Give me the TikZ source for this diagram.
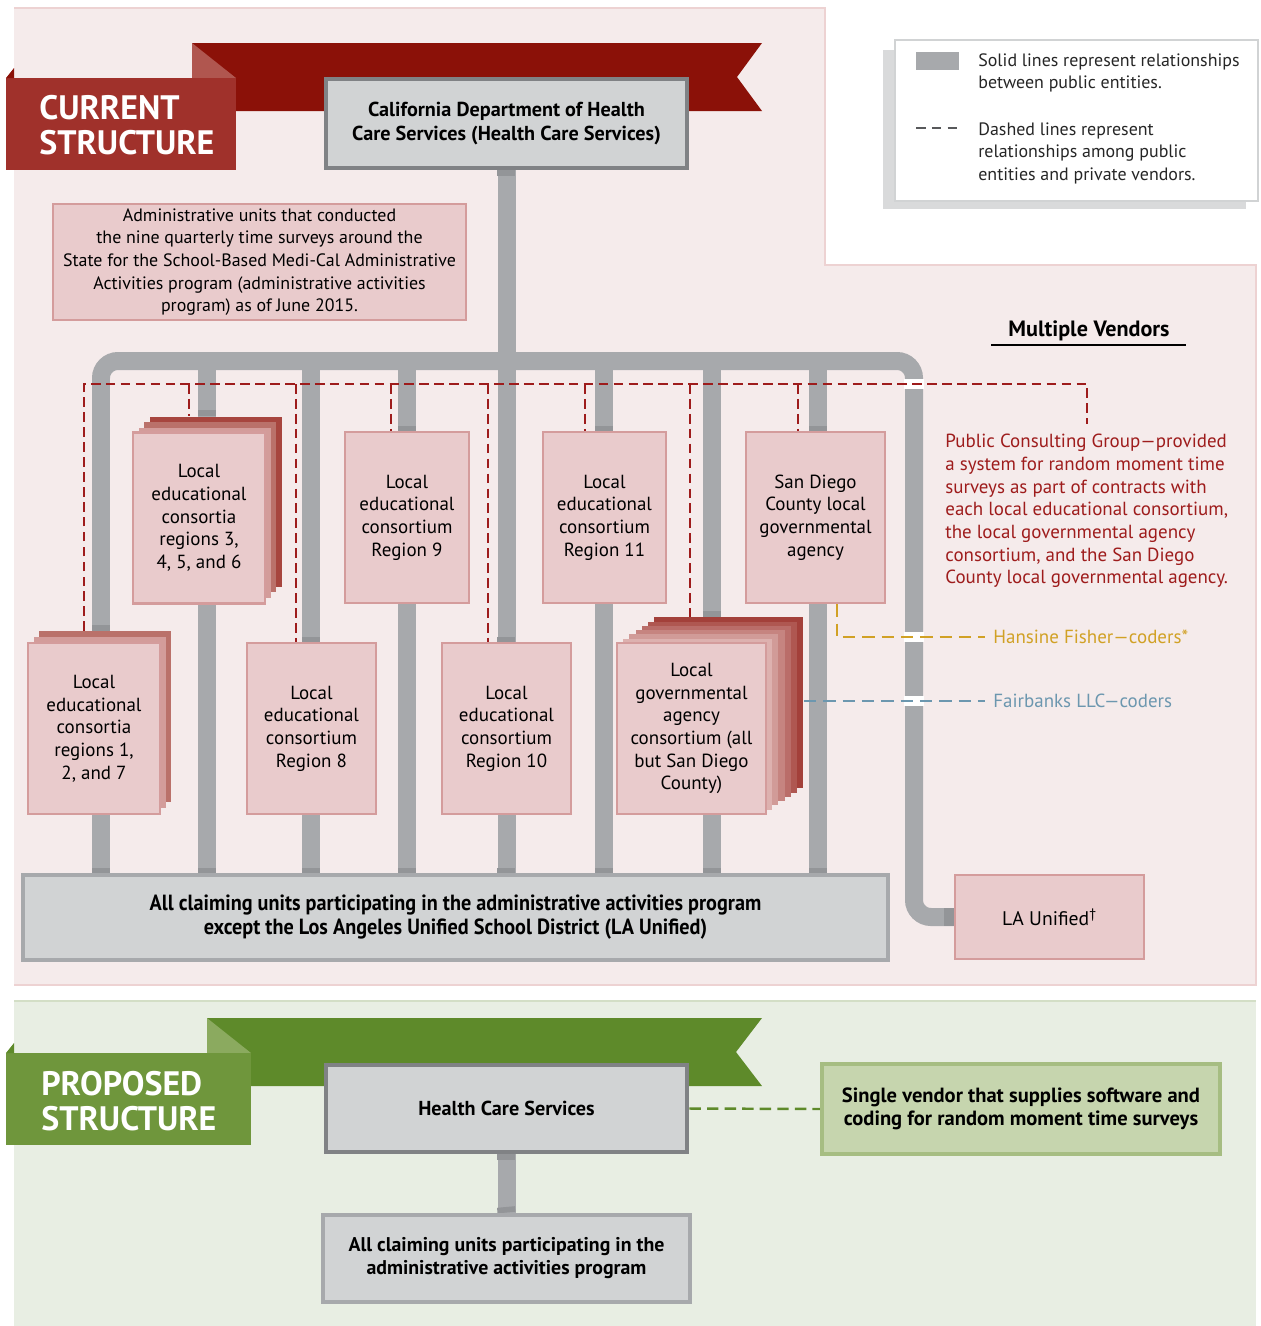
\documentclass[tikz,border=0pt]{standalone}
\usepackage{fontspec}
\setmainfont{PT Sans}
\newfontfamily\condfont[FakeStretch=0.92]{PT Sans}
\usetikzlibrary{positioning}

\definecolor{panelpink}{HTML}{F5EBEB}
\definecolor{panelpinkline}{HTML}{EDD2D2}
\definecolor{panelgreen}{HTML}{E8EEE3}
\definecolor{panelgreenline}{HTML}{D3DEC6}
\definecolor{ribbonred}{HTML}{8B1108}
\definecolor{foldred}{HTML}{B0564F}
\definecolor{labelred}{HTML}{A0312B}
\definecolor{ribbongreen}{HTML}{5E8A2A}
\definecolor{foldgreen}{HTML}{8BAA5F}
\definecolor{labelgreen}{HTML}{6F963C}
\definecolor{pipegray}{HTML}{A7A9AC}
\definecolor{capgray}{HTML}{939598}
\definecolor{boxgray}{HTML}{D1D3D4}
\definecolor{edgegray}{HTML}{808285}
\definecolor{unitfill}{HTML}{E9CBCC}
\definecolor{unitedge}{HTML}{D49C9C}
\definecolor{stackA}{HTML}{D39C9A}
\definecolor{stackB}{HTML}{BA716A}
\definecolor{stackC}{HTML}{A7453E}
\definecolor{lgalight}{HTML}{DDB1AF}
\definecolor{lgadark}{HTML}{A3403A}
\definecolor{pcgred}{HTML}{9E1C1C}
\definecolor{hfgold}{HTML}{D1A125}
\definecolor{fbblue}{HTML}{6C97AF}
\definecolor{vendorfill}{HTML}{C6D5AE}
\definecolor{vendoredge}{HTML}{A6BD82}
\definecolor{legendshadow}{HTML}{D9DADB}
\definecolor{legenddash}{HTML}{58595B}

\def\pxl{0.02cm}
\newcommand{\unitfont}{\fontsize{10.8}{12.9}\selectfont}
\newcommand{\notefont}{\fontsize{10.2}{12.9}\selectfont}
\newcommand{\legendfont}{\fontsize{10.2}{12.9}\selectfont}
\newcommand{\headfont}{\fontsize{11.5}{13.1}\selectfont\bfseries}
\newcommand{\claimfont}{\fontsize{12.5}{13.6}\selectfont\condfont\bfseries}
\newcommand{\bannerfont}{\fontsize{19.3}{19.8}\selectfont\bfseries}

\pgfdeclarelayer{panel}
\pgfdeclarelayer{pipes}
\pgfdeclarelayer{links}
\pgfsetlayers{panel,pipes,links,main}

\begin{document}
\begin{tikzpicture}[
  x=0.02cm, y=-0.02cm,
  pipe/.style={pipegray, line width=0.36cm},
  pipecap/.style={capgray, line width=0.36cm},
  unit/.style={draw=unitedge, fill=unitfill, line width=1.5pt, inner sep=0pt,
    align=center, font=\unitfont},
  hq/.style={draw=edgegray, fill=boxgray, line width=2.8pt, inner sep=0pt,
    align=center, font=\headfont},
  claim/.style={draw=pipegray, fill=boxgray, line width=2.8pt, inner sep=0pt,
    align=center},
  vendor/.style={draw=vendoredge, fill=vendorfill, line width=2.3pt, inner sep=0pt,
    align=center, font=\fontsize{11.7}{13.4}\selectfont\bfseries},
  pcgdash/.style={pcgred, line width=1.6pt, dash pattern=on 5.5pt off 3pt},
  hfdash/.style={hfgold, line width=1.4pt, dash pattern=on 7pt off 4pt},
  fbdash/.style={fbblue, line width=1.4pt, dash pattern=on 7pt off 4pt},
  grdash/.style={ribbongreen, line width=1.4pt, dash pattern=on 6.5pt off 3.5pt},
  bannertxt/.style={white, font=\bannerfont, align=left, inner sep=0pt, anchor=north west},
  legendtxt/.style={font=\legendfont, align=left, inner sep=0pt, anchor=north west, text=black!85},
]
\useasboundingbox (0,0) rectangle (1261,1326);

% ── Panels ────────────────────────────────────────────────────────────────────
\begin{pgfonlayer}{panel}
  \fill[panelpink] (14,8) -- (825,8) -- (825,265) -- (1256,265) -- (1256,985) -- (14,985) -- cycle;
  \draw[panelpinkline, line width=1.2pt]
    (14,8) -- (825,8) -- (825,265) -- (1256,265) -- (1256,985) -- (14,985);
  \fill[panelgreen] (14,1001) rectangle (1256,1326);
  \draw[panelgreenline, line width=1.2pt] (14,1001) -- (1256,1001);
\end{pgfonlayer}

% ── Banner: current structure ────────────────────────────────────────────────
\fill[ribbonred] (192,43) -- (762,43) -- (737,77) -- (762,111) -- (192,111) -- cycle;
\fill[foldred] (192,43) -- (236,78) -- (192,78) -- cycle;
\fill[labelred] (6,78) rectangle (236,170);
\fill[ribbonred] (6,78) -- (14,68) -- (14,78) -- cycle;
\node[bannertxt] (curlbl) at (39,95) {CURRENT\\STRUCTURE};

% ── Legend ────────────────────────────────────────────────────────────────────
\fill[legendshadow] (883,50) rectangle (1246,209);
\draw[boxgray, line width=1.5pt, fill=white] (895,40) rectangle (1258,201);
\fill[pipegray] (916,52) rectangle (959,70);
\draw[legenddash, line width=1.4pt, dash pattern=on 5.5pt off 3.5pt] (916,128) -- (962,128);
\node[legendtxt] (solidtxt) at (978,53) {Solid lines represent relationships\\between public entities.};
\node[legendtxt] (dashtxt) at (978,122) {Dashed lines represent\\relationships among public\\entities and private vendors.};

% ── Boxes, current structure ─────────────────────────────────────────────────
\node[hq, minimum width=361*\pxl, minimum height=89*\pxl] (hq) at (506.5,123.5)
  {California Department of Health\\Care Services (Health Care Services)};

\node[unit, font=\notefont, minimum width=413*\pxl, minimum height=116*\pxl] (note) at (259.5,262)
  {Administrative units that conducted\\the nine quarterly time surveys around the\\State for the School-Based Medi-Cal Administrative\\Activities program (administrative activities\\program) as of June 2015.};

% stacked consortia: layers behind the front box
\foreach \k/\c in {3/stackC,2/stackB,1/stackA}
  \fill[\c] (133+5.5*\k,433-5.5*\k) rectangle ++(132,170);
\foreach \k/\c in {2/stackB,1/stackA}
  \fill[\c] (28+5.5*\k,643-6*\k) rectangle ++(132,171);
\foreach \k in {6,5,...,1} {
  \pgfmathtruncatemacro\mixp{100*(\k-1)/5}
  \fill[lgadark!\mixp!lgalight] (617+6.2*\k,643-4.3*\k) rectangle ++(149,171);
}

\node[unit, minimum width=132*\pxl, minimum height=171*\pxl] (r3456) at (199,518)
  {Local\\educational\\consortia\\regions 3,\\4, 5, and 6};
\node[unit, minimum width=124*\pxl, minimum height=171*\pxl] (r9) at (407,517.5)
  {Local\\educational\\consortium\\Region 9};
\node[unit, minimum width=123*\pxl, minimum height=171*\pxl] (r11) at (604.5,517.5)
  {Local\\educational\\consortium\\Region 11};
\node[unit, minimum width=139*\pxl, minimum height=171*\pxl] (sd) at (815.5,517.5)
  {San Diego\\County local\\governmental\\agency};
\node[unit, minimum width=132*\pxl, minimum height=171*\pxl] (r127) at (94,728.5)
  {Local\\educational\\consortia\\regions 1,\\2, and 7};
\node[unit, minimum width=129*\pxl, minimum height=171*\pxl] (r8) at (311.5,728.5)
  {Local\\educational\\consortium\\Region 8};
\node[unit, minimum width=129*\pxl, minimum height=171*\pxl] (r10) at (506.5,728.5)
  {Local\\educational\\consortium\\Region 10};
\node[unit, minimum width=149*\pxl, minimum height=171*\pxl] (lga) at (691.5,728.5)
  {Local\\governmental\\agency\\consortium (all\\but San Diego\\County)};

\node[claim, font=\claimfont, minimum width=865*\pxl, minimum height=85*\pxl] (allunits) at (455.5,917.5)
  {All claiming units participating in the administrative activities program\\except the Los Angeles Unified School District (LA Unified)};
\node[unit, font=\fontsize{11.2}{13}\selectfont, minimum width=189*\pxl, minimum height=84*\pxl] (launified) at (1049.5,917)
  {LA Unified\textsuperscript{\textdagger}};

% ── Vendors ──────────────────────────────────────────────────────────────────
\node[font=\fontsize{12.6}{14}\selectfont\bfseries, inner sep=0pt] (mv) at (1089,331) {Multiple Vendors};
\draw[line width=1.5pt] (991,345) -- (1186,345);

\node[font=\unitfont, text=pcgred, align=left, anchor=north west, inner xsep=0pt, inner ysep=0.2cm] (pcg) at (945,424)
  {Public Consulting Group\textemdash provided\\a system for random moment time\\surveys as part of contracts with\\each local educational consortium,\\the local governmental agency\\consortium, and the San Diego\\County local governmental agency.};
\node[font=\unitfont, text=hfgold, anchor=west, inner xsep=0.16cm, inner ysep=0pt] (hf) at (985,637)
  {Hansine Fisher\textemdash coders*};
\node[font=\unitfont, text=fbblue, anchor=west, inner xsep=0.16cm, inner ysep=0pt] (fb) at (985,701)
  {Fairbanks LLC\textemdash coders};

% ── Banner: proposed structure ───────────────────────────────────────────────
\fill[ribbongreen] (207,1018) -- (762,1018) -- (736,1052) -- (762,1086) -- (207,1086) -- cycle;
\fill[foldgreen] (207,1018) -- (251,1053) -- (207,1053) -- cycle;
\fill[labelgreen] (6,1053) rectangle (251,1145);
\fill[ribbongreen] (6,1053) -- (14,1043) -- (14,1053) -- cycle;
\node[bannertxt] (proplbl) at (41,1071) {PROPOSED\\STRUCTURE};

\node[hq, minimum width=361*\pxl, minimum height=87*\pxl] (hcs) at (506.5,1108.5) {Health Care Services};
\node[claim, font=\fontsize{11.3}{13.1}\selectfont\bfseries, minimum width=367*\pxl, minimum height=87*\pxl] (claimall) at (506.5,1258.5)
  {All claiming units participating in the\\administrative activities program};
\node[vendor, minimum width=398*\pxl, minimum height=90*\pxl] (single) at (1021,1109)
  {Single vendor that supplies software and\\coding for random moment time surveys};

% ── Pipes (solid relationships) ──────────────────────────────────────────────
\begin{pgfonlayer}{pipes}
  \draw[pipe] (hq.south) -- (hq.south |- allunits.north);
  \draw[pipe, rounded corners=0.34cm]
    (101,0 |- allunits.north) -- (101,361) -- (914,361) -- (914,917) -- (launified.west);
  \foreach \x in {207,311,407,604,712,818}
    \draw[pipe] (\x,361) -- (\x,0 |- allunits.north);
  % darker caps where a pipe meets a box
  \foreach \x in {101,207,311,407,506,604,712,818}
    \draw[pipecap] (\x,868) -- (\x,875);
  \foreach \x/\y in {101/631,207/416,311/643,407/432,506/643,604/432,712/617,818/432}
    \draw[pipecap] (\x,\y-6) -- (\x,\y);
  \draw[pipecap] (506,168) -- (506,176);
  \draw[pipecap] (944,917) -- (launified.west);
  \draw[pipe] (hcs.south) -- (claimall.north);
  \draw[pipecap] (506,1152) -- (506,1160);
  \draw[pipecap] (506,1207) -- (claimall.north);
\end{pgfonlayer}

% ── Dashed links (vendors) ───────────────────────────────────────────────────
\begin{pgfonlayer}{links}
  \fill[white] (904,379) rectangle (924,389);
  \fill[white] (904,632) rectangle (924,642);
  \fill[white] (904,696) rectangle (924,706);
  \draw[pcgdash] (84,631) -- (84,384) -- (1087,384) -- (1087,0 |- pcg.north);
  \draw[pcgdash] (189,384) -- (189,416);
  \draw[pcgdash] (296,384) -- (296,0 |- r8.north);
  \draw[pcgdash] (391,384) -- (391,0 |- r9.north);
  \draw[pcgdash] (488,384) -- (488,0 |- r10.north);
  \draw[pcgdash] (585,384) -- (585,0 |- r11.north);
  \draw[pcgdash] (690,384) -- (690,617);
  \draw[pcgdash] (798,384) -- (798,0 |- sd.north);
  \draw[hfdash] (837,0 |- sd.south) |- (hf.west);
  \draw[fbdash] (804,701) -- (fb.west);
  \draw[grdash] (hcs.east) -- (single.west);
\end{pgfonlayer}

\end{tikzpicture}
\end{document}
